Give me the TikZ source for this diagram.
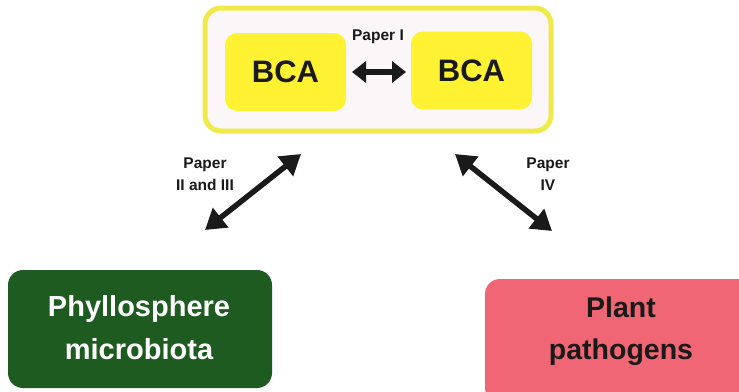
\documentclass[tikz,border=0pt]{standalone}
\usepackage{fontspec}
\setmainfont{Liberation Sans}
\usetikzlibrary{arrows.meta}
\definecolor{bcayellow}{HTML}{FFF233}
\definecolor{outeryellow}{HTML}{EFEA4A}
\definecolor{outerfill}{HTML}{FBF7F8}
\definecolor{phyllo}{HTML}{1E5B20}
\definecolor{patho}{HTML}{F06674}
\definecolor{txt}{HTML}{1A1A1A}
\begin{document}
\begin{tikzpicture}[x=1pt,y=-1pt,
  bca/.style={fill=bcayellow,rounded corners=12pt,minimum width=121pt,minimum height=78pt,font=\fontsize{31}{31}\selectfont\bfseries,text=txt,inner sep=0pt},
  bigbox/.style={rounded corners=15pt,inner sep=0pt,align=center},
  bigtext/.style={inner sep=0pt,align=center,font=\fontsize{29}{43}\selectfont\bfseries},
  lbl/.style={font=\fontsize{15.5}{22}\selectfont\bfseries,align=center,text=txt,inner sep=0pt},
  dbl/.style={line width=5.5pt,{Triangle[length=20pt,width=24pt]}-{Triangle[length=20pt,width=24pt]},txt}]
\useasboundingbox (0,0) rectangle (739,391);
\fill[white] (0,0) rectangle (739,391);
\node[draw=outeryellow,line width=5pt,fill=outerfill,rounded corners=16pt,minimum width=346pt,minimum height=123pt,inner sep=0pt] (outer) at (378,69.5) {};
\node[bca] (bca1) at (285.5,72) {BCA};
\node[bca] (bca2) at (471.5,70.5) {BCA};
\node[lbl] (p1) at (378,37) {Paper I};
\coordinate (a1) at (352,72);
\coordinate (a2) at (406,72);
\draw[line width=5.5pt,{Triangle[length=14pt,width=21pt]}-{Triangle[length=14pt,width=21pt]},txt] (a1) -- (a2);
\node[fill=phyllo] [bigbox,minimum width=264pt,minimum height=118pt] (phy) at (140,329) {};
\node[bigtext,text=white] (phytxt) at (139,328) {Phyllosphere\\microbiota};
\node[fill=patho] [bigbox,minimum width=270pt,minimum height=124pt] (pat) at (620,341) {};
\node[bigtext,text=txt,font=\fontsize{28.5}{42}\selectfont\bfseries] (pattxt) at (621,331) {Plant\\pathogens};
\coordinate (l1) at (205,230);
\coordinate (l2) at (301,154);
\coordinate (r1) at (455,154);
\coordinate (r2) at (552,231);
\draw[dbl] (l1) -- (l2);
\draw[dbl] (r1) -- (r2);
\node[lbl] (p23) at (205,174) {Paper\\II and III};
\node[lbl] (p4) at (548,174) {Paper\\IV};
\end{tikzpicture}
\end{document}
